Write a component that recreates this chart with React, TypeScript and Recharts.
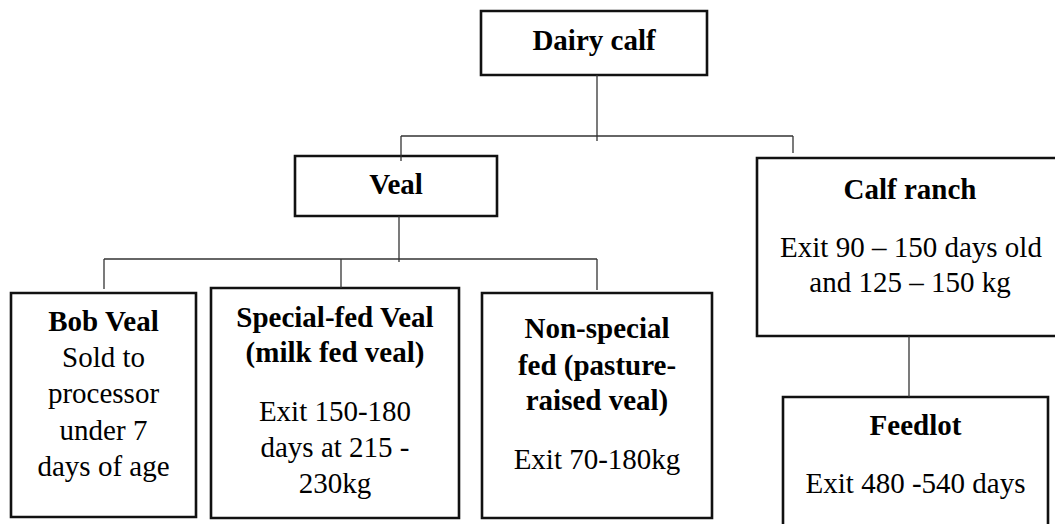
import React from "react";
import { ScatterChart, Scatter, XAxis, YAxis, ReferenceArea, ReferenceLine } from "recharts";

// Diagram nodes (diagram units: 0..1055 horizontally, 0..524 vertically, top-down)
const nodeNames = ["Dairy calf", "Veal", "Calf ranch", "Bob Veal", "Special-fed Veal", "Non-special fed", "Feedlot"];
const nodeLeft = [481, 295, 757, 11, 211, 482, 783];
const nodeRight = [707, 497, 1063, 196, 459, 712, 1048];
const nodeTop = [11, 156, 158, 293, 288, 293, 397];
const nodeBottom = [75, 216, 336, 517, 518, 518, 560];

// Connector segments: [x1, y1, x2, y2]
const linkX1 = [597, 401, 401, 793, 399, 104, 104, 341, 597, 909];
const linkY1 = [75, 136, 136, 136, 216, 259, 259, 259, 259, 336];
const linkX2 = [597, 793, 401, 793, 399, 597, 104, 341, 597, 909];
const linkY2 = [141, 136, 161, 153, 262, 259, 289, 288, 290, 397];

// Text lines inside the nodes
const lineTexts = [
  "Dairy calf",
  "Veal",
  "Calf ranch", "Exit 90 \u2013 150 days old", "and 125 \u2013 150 kg",
  "Bob Veal", "Sold to", "processor", "under 7", "days of age",
  "Special-fed Veal", "(milk fed veal)", "Exit 150-180", "days at 215 -", "230kg",
  "Non-special", "fed (pasture-", "raised veal)", "Exit 70-180kg",
  "Feedlot", "Exit 480 -540 days",
];
const lineX = [
  594,
  396,
  910, 911, 910,
  103.5, 103.5, 103.5, 103.5, 103.5,
  335, 335, 335, 335, 335,
  597, 597, 597, 597,
  915.5, 915.5,
];
const lineY = [
  50,
  194,
  199, 257, 292,
  331, 367, 403, 440, 476,
  327, 362, 421, 457, 493,
  338, 375, 410, 469,
  435, 493,
];
const lineBold = [
  true,
  true,
  true, false, false,
  true, false, false, false, false,
  true, true, false, false, false,
  true, true, true, false,
  true, false,
];

const textData = lineTexts.map((t, i) => ({ x: lineX[i], y: lineY[i], text: t, bold: lineBold[i] }));

const FONT = "'Liberation Serif', 'Times New Roman', Times, serif";

const renderText = (props: any) => {
  const { cx, cy, payload } = props;
  return (
    <text
      x={cx}
      y={cy}
      textAnchor="middle"
      fontFamily={FONT}
      fontSize={29}
      fontWeight={payload.bold ? 700 : 400}
      fill="#000"
    >
      {payload.text}
    </text>
  );
};

export default function App() {
  return (
    <div style={{ position: "absolute", left: 0, top: 0, width: 1055, height: 524, background: "#fff" }}>
      <ScatterChart width={1055} height={524} margin={{ top: 0, right: 0, bottom: 0, left: 0 }}>
        <XAxis type="number" dataKey="x" domain={[0, 1055]} hide allowDataOverflow />
        <YAxis type="number" dataKey="y" domain={[0, 524]} reversed hide allowDataOverflow />
        {nodeNames.map((name, i) => (
          <ReferenceArea
            key={name}
            x1={nodeLeft[i]}
            x2={nodeRight[i]}
            y1={nodeTop[i]}
            y2={nodeBottom[i]}
            fill="none"
            fillOpacity={0}
            stroke="#111"
            strokeWidth={2.6}
            ifOverflow="visible"
          />
        ))}
        {linkX1.map((x1, i) => (
          <ReferenceLine
            key={"l" + i}
            segment={[
              { x: x1, y: linkY1[i] },
              { x: linkX2[i], y: linkY2[i] },
            ]}
            stroke="#333"
            strokeWidth={1.3}
            ifOverflow="visible"
          />
        ))}
        <Scatter data={textData} dataKey="y" shape={renderText} isAnimationActive={false} />
      </ScatterChart>
    </div>
  );
}
